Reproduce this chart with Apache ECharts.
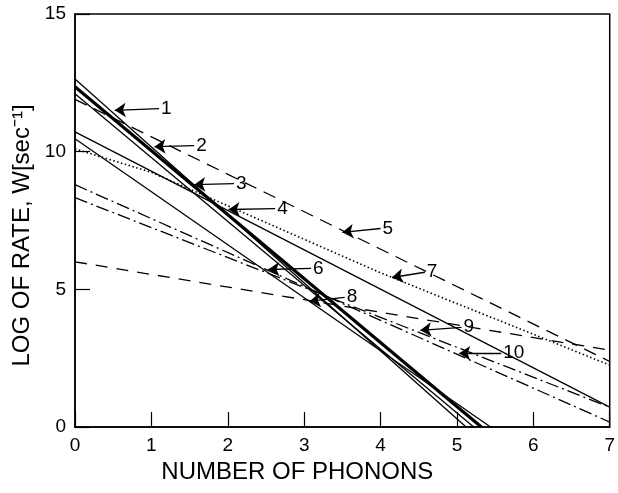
<!DOCTYPE html>
<html>
<head>
<meta charset="utf-8">
<script src="https://cdn.jsdelivr.net/npm/echarts@6/dist/echarts.min.js"></script>
<style>
html,body{margin:0;padding:0;background:#fff;}
#chart{width:618px;height:493px;}
</style>
</head>
<body>
<div id="chart"></div>
<script>
// Axis ticks
const xTicks = [0, 1, 2, 3, 4, 5, 6, 7];
const yTicks = [0, 5, 10, 15];
const xTitle = 'NUMBER OF PHONONS';
const yTitle = 'LOG OF RATE, W[sec\u207B\u00B9]';

// Curves: [number of phonons, log rate]
const line1 = [[0, 12.64], [5.12, 0]];
const line2 = [[0, 12.36], [5.32, 0]];
const line3 = [[0, 12.1], [5.22, 0]];
const line4 = [[0, 10.72], [7, 0.72]];
const line5 = [[0, 11.9], [7, 2.38]];
const line6 = [[0, 10.47], [5.44, 0]];
const line7 = [[0, 10.1], [1, 9.25], [4, 5.6], [7, 2.25]];
const line8 = [[0, 6.0], [7, 2.79]];
const line9 = [[0, 8.33], [7, 0.72]];
const line10 = [[0, 8.8], [7, 0.18]];

// Annotation arrows: label names, arrow tail (label) and tip in data coords
const labelNames = ['1', '2', '3', '4', '5', '6', '7', '8', '9', '10'];
const arrowTails = [[1.10, 11.56], [1.56, 10.22], [2.08, 8.84], [2.62, 7.93], [4.0, 7.21],
                    [3.09, 5.76], [4.58, 5.62], [3.53, 4.71], [5.06, 3.62], [5.58, 2.68]];
const arrowTips = [[0.52, 11.5], [1.04, 10.18], [1.56, 8.8], [2.01, 7.9], [3.5, 7.07],
                   [2.53, 5.72], [4.15, 5.43], [3.07, 4.57], [4.52, 3.51], [5.03, 2.68]];

const lines = [line1, line2, line3, line4, line5, line6, line7, line8, line9, line10];
const styles = [
  {width: 1.3, type: 'solid'},
  {width: 3.2, type: 'solid'},
  {width: 1.3, type: 'solid'},
  {width: 1.3, type: 'solid'},
  {width: 1.3, type: [13, 8]},
  {width: 1.3, type: 'solid'},
  {width: 1.6, type: [1.5, 2.5]},
  {width: 1.3, type: [12, 9]},
  {width: 1.3, type: [13, 4, 2, 4]},
  {width: 1.3, type: [13, 4, 2, 4]}
];

const FONT = 'Liberation Sans';

const series = lines.map((d, i) => ({
  type: 'line',
  data: d,
  showSymbol: false,
  symbol: 'none',
  silent: true,
  lineStyle: {color: '#000', width: styles[i].width, type: styles[i].type},
  markLine: {
    silent: true,
    animation: false,
    lineStyle: {color: '#000', width: 1.3, type: 'solid'},
    label: {
      show: true,
      position: 'start',
      distance: 2,
      formatter: labelNames[i],
      color: '#000',
      fontFamily: FONT,
      fontSize: 19
    },
    data: [[
      {coord: arrowTails[i], symbol: 'none'},
      {coord: arrowTips[i], symbol: 'arrow', symbolSize: 11}
    ]]
  }
}));

const chart = echarts.init(document.getElementById('chart'), null, {renderer: 'canvas'});
chart.setOption({
  animation: false,
  backgroundColor: '#fff',
  grid: {left: 75, right: 3, top: 14, bottom: 66, show: true, borderColor: '#000', borderWidth: 1.5, backgroundColor: 'transparent'},
  xAxis: {
    type: 'value', min: xTicks[0], max: xTicks[xTicks.length - 1], interval: 1,
    name: xTitle, nameLocation: 'middle', nameGap: 27,
    nameTextStyle: {fontFamily: FONT, fontSize: 24, color: '#000', padding: [0, 90, 0, 0]},
    axisLine: {show: true, lineStyle: {color: '#000', width: 1.5}},
    axisTick: {show: true, inside: true, length: 15, lineStyle: {color: '#000', width: 1.2}},
    splitLine: {show: false},
    axisLabel: {fontFamily: FONT, fontSize: 19, color: '#000', margin: 9, showMaxLabel: true,
      formatter: v => xTicks.includes(v) ? String(v) : ''}
  },
  yAxis: {
    type: 'value', min: yTicks[0], max: yTicks[yTicks.length - 1], interval: 5,
    name: yTitle, nameLocation: 'middle', nameGap: 33, nameRotate: 90,
    nameTextStyle: {fontFamily: FONT, fontSize: 24, color: '#000', padding: [0, 30, 0, 0]},
    axisLine: {show: true, lineStyle: {color: '#000', width: 1.5}},
    axisTick: {show: true, inside: true, length: 15, lineStyle: {color: '#000', width: 1.2}},
    splitLine: {show: false},
    axisLabel: {fontFamily: FONT, fontSize: 19, color: '#000', margin: 9,
      formatter: v => yTicks.includes(v) ? String(v) : ''}
  },
  series: series
});
</script>
</body>
</html>
